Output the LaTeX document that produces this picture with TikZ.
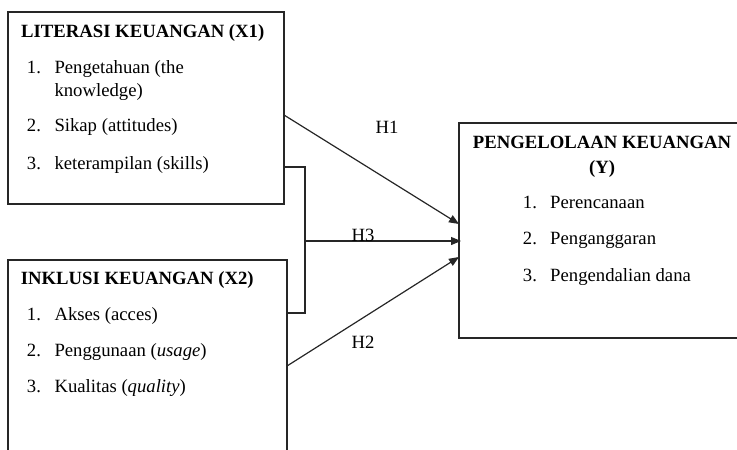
\documentclass[tikz,border=0pt]{standalone}
\usepackage{fontspec}
\setmainfont{Liberation Serif}
\usetikzlibrary{arrows.meta}
\begin{document}
\begin{tikzpicture}[x=1pt,y=-1pt,
  box/.style={draw=black!85, line width=1.3pt, anchor=north west, inner sep=0pt, outer sep=0pt},
  txt/.style={anchor=base west, inner sep=0pt, font=\fontsize{18.7}{22}\selectfont},
  ttl/.style={anchor=base west, inner sep=0pt, font=\fontsize{18.7}{22}\selectfont\bfseries},
  ttlc/.style={anchor=base, inner sep=0pt, font=\fontsize{18.7}{22}\selectfont\bfseries},
  conn/.style={draw=black!85, line width=1.2pt},
  arr/.style={conn, -{Triangle[length=10pt,width=8pt]}},
  lbl/.style={anchor=base, inner sep=0pt, font=\fontsize{18.7}{22}\selectfont}]
\useasboundingbox (0,0) rectangle (737,450);
\clip (0,0) rectangle (737,450);
% boxes
\node[box, minimum width=276pt, minimum height=192pt] (x1) at (8,12) {};
\node[box, minimum width=279pt, minimum height=220pt] (x2) at (8,260) {};
\node[box, minimum width=300pt, minimum height=215pt] (y) at (459,123) {};
% X1 texts
\node[ttl] (x1t) at (21,37) {LITERASI KEUANGAN (X1)};
\node[txt] (x1n1) at (26.7,73) {1.};
\node[txt] (x1i1) at (54.3,73) {Pengetahuan (the};
\node[txt] (x1i1b) at (54.3,96) {knowledge)};
\node[txt] (x1n2) at (26.7,131) {2.};
\node[txt] (x1i2) at (54.3,131) {Sikap (attitudes)};
\node[txt] (x1n3) at (26.7,169) {3.};
\node[txt] (x1i3) at (54.3,169) {keterampilan (skills)};
% X2 texts
\node[ttl] (x2t) at (20.7,284) {INKLUSI KEUANGAN (X2)};
\node[txt] (x2n1) at (26.7,320.7) {1.};
\node[txt] (x2i1) at (54.3,320.7) {Akses (acces)};
\node[txt] (x2n2) at (26.7,356.7) {2.};
\node[txt] (x2i2) at (54.3,356.7) {Penggunaan (\textit{usage})};
\node[txt] (x2n3) at (26.7,392.7) {3.};
\node[txt] (x2i3) at (54.3,392.7) {Kualitas (\textit{quality})};
% Y texts
\node[ttlc] (yt) at (602,148) {PENGELOLAAN KEUANGAN};
\node[ttlc] (yt2) at (602,173) {(Y)};
\node[txt] (yn1) at (522.7,208) {1.};
\node[txt] (yi1) at (550,208) {Perencanaan};
\node[txt] (yn2) at (522.7,244) {2.};
\node[txt] (yi2) at (550,244) {Penganggaran};
\node[txt] (yn3) at (522.7,281) {3.};
\node[txt] (yi3) at (550,281) {Pengendalian dana};
% connectors
\coordinate (j) at (305,241);
\draw[arr] (x1.east |- 0,115) -- (y.west |- 0,224);
\draw[conn] (x1.east |- 0,167) -| (j) |- (x2.east |- 0,313);
\draw[arr] (j) -- ([xshift=2pt]y.west |- j);
\draw[arr] (x2.east |- 0,366) -- (y.west |- 0,257);
% labels
\node[lbl] (h1) at (387,133) {H1};
\node[lbl] (h3) at (363,241) {H3};
\node[lbl] (h2) at (363,348) {H2};
\end{tikzpicture}
\end{document}
